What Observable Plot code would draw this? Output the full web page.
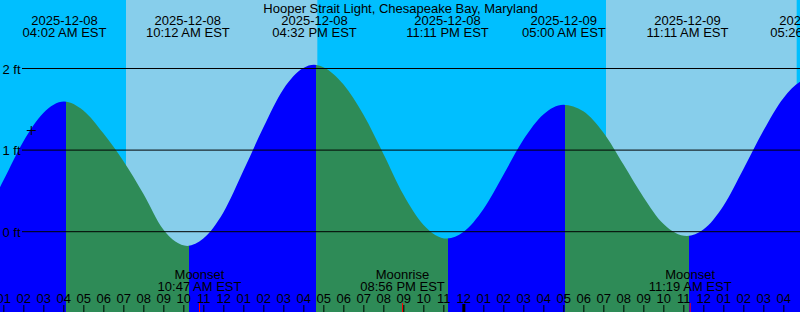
<!DOCTYPE html>
<html><head><meta charset="utf-8">
<script src="https://cdn.jsdelivr.net/npm/d3@7"></script>
<script src="https://cdn.jsdelivr.net/npm/@observablehq/plot@0.6"></script>
<style>
html,body{margin:0;padding:0;background:#00BFFF;overflow:hidden}
svg{display:block}
</style></head><body><div id="chart"></div>
<script>
const stationTitle = "Hooper Strait Light, Chesapeake Bay, Maryland";
const viewStart = "2025-12-08T00:50";
const viewEnd = "2025-12-09T16:50";
const extremeTimes = ["2025-12-08T04:02","2025-12-08T10:12","2025-12-08T16:32","2025-12-08T23:11","2025-12-09T05:00","2025-12-09T11:11","2025-12-09T17:26"];
const extremeFeet = [1.59,-0.18,2.04,-0.09,1.55,-0.06,1.87];
const curveHours = [0,1,2,3,5,6,7,8,9,11,12,13,14,15,16,17,18,19,20,21,22,24,25,26,27,28,30,31,32,33,34,36,37,38,39,40,41,42];
const curveFeet = [0.14,0.62,1.10,1.45,1.48,1.20,0.86,0.46,0.02,-0.09,0.23,0.74,1.27,1.74,2.00,2.01,1.80,1.43,0.95,0.45,0.08,-0.01,0.27,0.69,1.12,1.43,1.47,1.21,0.82,0.42,0.09,0.02,0.31,0.76,1.23,1.63,1.85,1.83];
const sunriseTimes = ["2025-12-08T07:08","2025-12-09T07:08"];
const sunsetTimes = ["2025-12-08T16:42","2025-12-09T16:40"];
const moonTimes = ["2025-12-08T10:47","2025-12-08T20:56","2025-12-09T11:19"];
const moonEvents = ["Moonset","Moonrise","Moonset"];
const levelTicks = [0,1,2];
const nowTime = "2025-12-08T02:22";
const nowFeet = 1.24;

const nightColor = "#00BFFF", dayColor = "#87CEEB", floodColor = "#0000FF", ebbColor = "#2E8B57";

const P = s => new Date(s + ":00Z");
const base = P("2025-12-08T00:00");
const extremes = extremeTimes.map((s,i)=>({t:P(s), h:extremeFeet[i]}));
const pts = curveHours.map((h,i)=>({t:new Date(+base + h*3600e3), h:curveFeet[i]}))
  .concat(extremes).sort((a,b)=>a.t-b.t);
const days = sunriseTimes.map((s,i)=>({start:P(s), end:P(sunsetTimes[i])}));
const moons = moonTimes.map((s,i)=>({t:P(s), name:moonEvents[i]}));
const fmtDate = d3.utcFormat("%Y-%m-%d");
const fmtTime = d3.utcFormat("%I:%M %p EST");
const fmtHour = d3.utcFormat("%I");
const hours = d3.utcHour.range(P(viewStart), P(viewEnd));
const midnights = hours.filter(d => d.getUTCHours() === 0);

const chart = Plot.plot({
  width: 800, height: 312, margin: 0,
  style: {fontFamily: "'Liberation Sans', Arial, sans-serif", fontSize: "13px", background: nightColor, color: "black"},
  x: {type: "utc", domain: [P(viewStart), P(viewEnd)], axis: null},
  y: {domain: [0, 2], range: [231.2, 68], axis: null},
  marks: [
    Plot.rect(days, {x1: "start", x2: "end", fill: dayColor}),
    Plot.area(pts, {x1: "t", y1: () => -1.2, y2: "h", curve: "monotone-x", fill: "url(#tideFill)"}),
    Plot.ruleY(levelTicks, {insetLeft: 22, stroke: "black"}),
    Plot.text(levelTicks, {y: d => d, text: d => `${d} ft`, frameAnchor: "left", textAnchor: "start", lineAnchor: "middle", dx: 2, dy: 1}),
    Plot.text([stationTitle], {text: d => d, frameAnchor: "top", lineAnchor: "top", dy: 3}),
    Plot.text(extremes, {x: "t", text: d => fmtDate(d.t) + "\n" + fmtTime(d.t), frameAnchor: "top", lineAnchor: "top", lineHeight: 12/13, dy: 16.2}),
    Plot.text(moons, {x: "t", text: d => d.name + "\n" + fmtTime(d.t), frameAnchor: "bottom", lineAnchor: "bottom", lineHeight: 12/13, dy: -22}),
    Plot.text(hours, {x: d => d, text: d => fmtHour(d), frameAnchor: "bottom", lineAnchor: "bottom", dy: -10}),
    Plot.tickX(hours, {x: d => d, insetTop: 305, stroke: "black"}),
    Plot.tickX(midnights, {x: d => d, insetTop: 304, stroke: "black", strokeWidth: 3}),
    Plot.tickX(moons, {x: "t", insetTop: 303, stroke: "red"}),
    Plot.dot([{t: P(nowTime), h: nowFeet}], {x: "t", y: "h", symbol: "plus", r: 3, stroke: "black", strokeWidth: 1})
  ]
});
document.getElementById("chart").appendChild(chart);

// flood/ebb colouring of the tide area, switching at each extreme (positions from the x scale,
// nudged by the column-fill offset the reference shows)
const xs = chart.scale("x");
const W = 800, columnShift = 1.5;
const grad = d3.select(chart).insert("defs", ":first-child").append("linearGradient")
  .attr("id", "tideFill").attr("gradientUnits", "userSpaceOnUse")
  .attr("x1", 0).attr("x2", W).attr("y1", 0).attr("y2", 0);
let cur = extremes[0].h > (extremes[1] ? extremes[1].h : 0) ? floodColor : ebbColor;
const stops = [[0, cur]];
extremes.forEach((e, i) => {
  const o = Math.max(0, Math.min(1, (xs.apply(e.t) + columnShift) / W));
  const next = extremes[i+1] ? (extremes[i+1].h < e.h ? ebbColor : floodColor) : (cur === floodColor ? ebbColor : floodColor);
  stops.push([o, cur]); stops.push([o, next]);
  cur = next;
});
stops.push([1, cur]);
stops.forEach(([o, c]) => grad.append("stop").attr("offset", o).attr("stop-color", c));
</script></body></html>
